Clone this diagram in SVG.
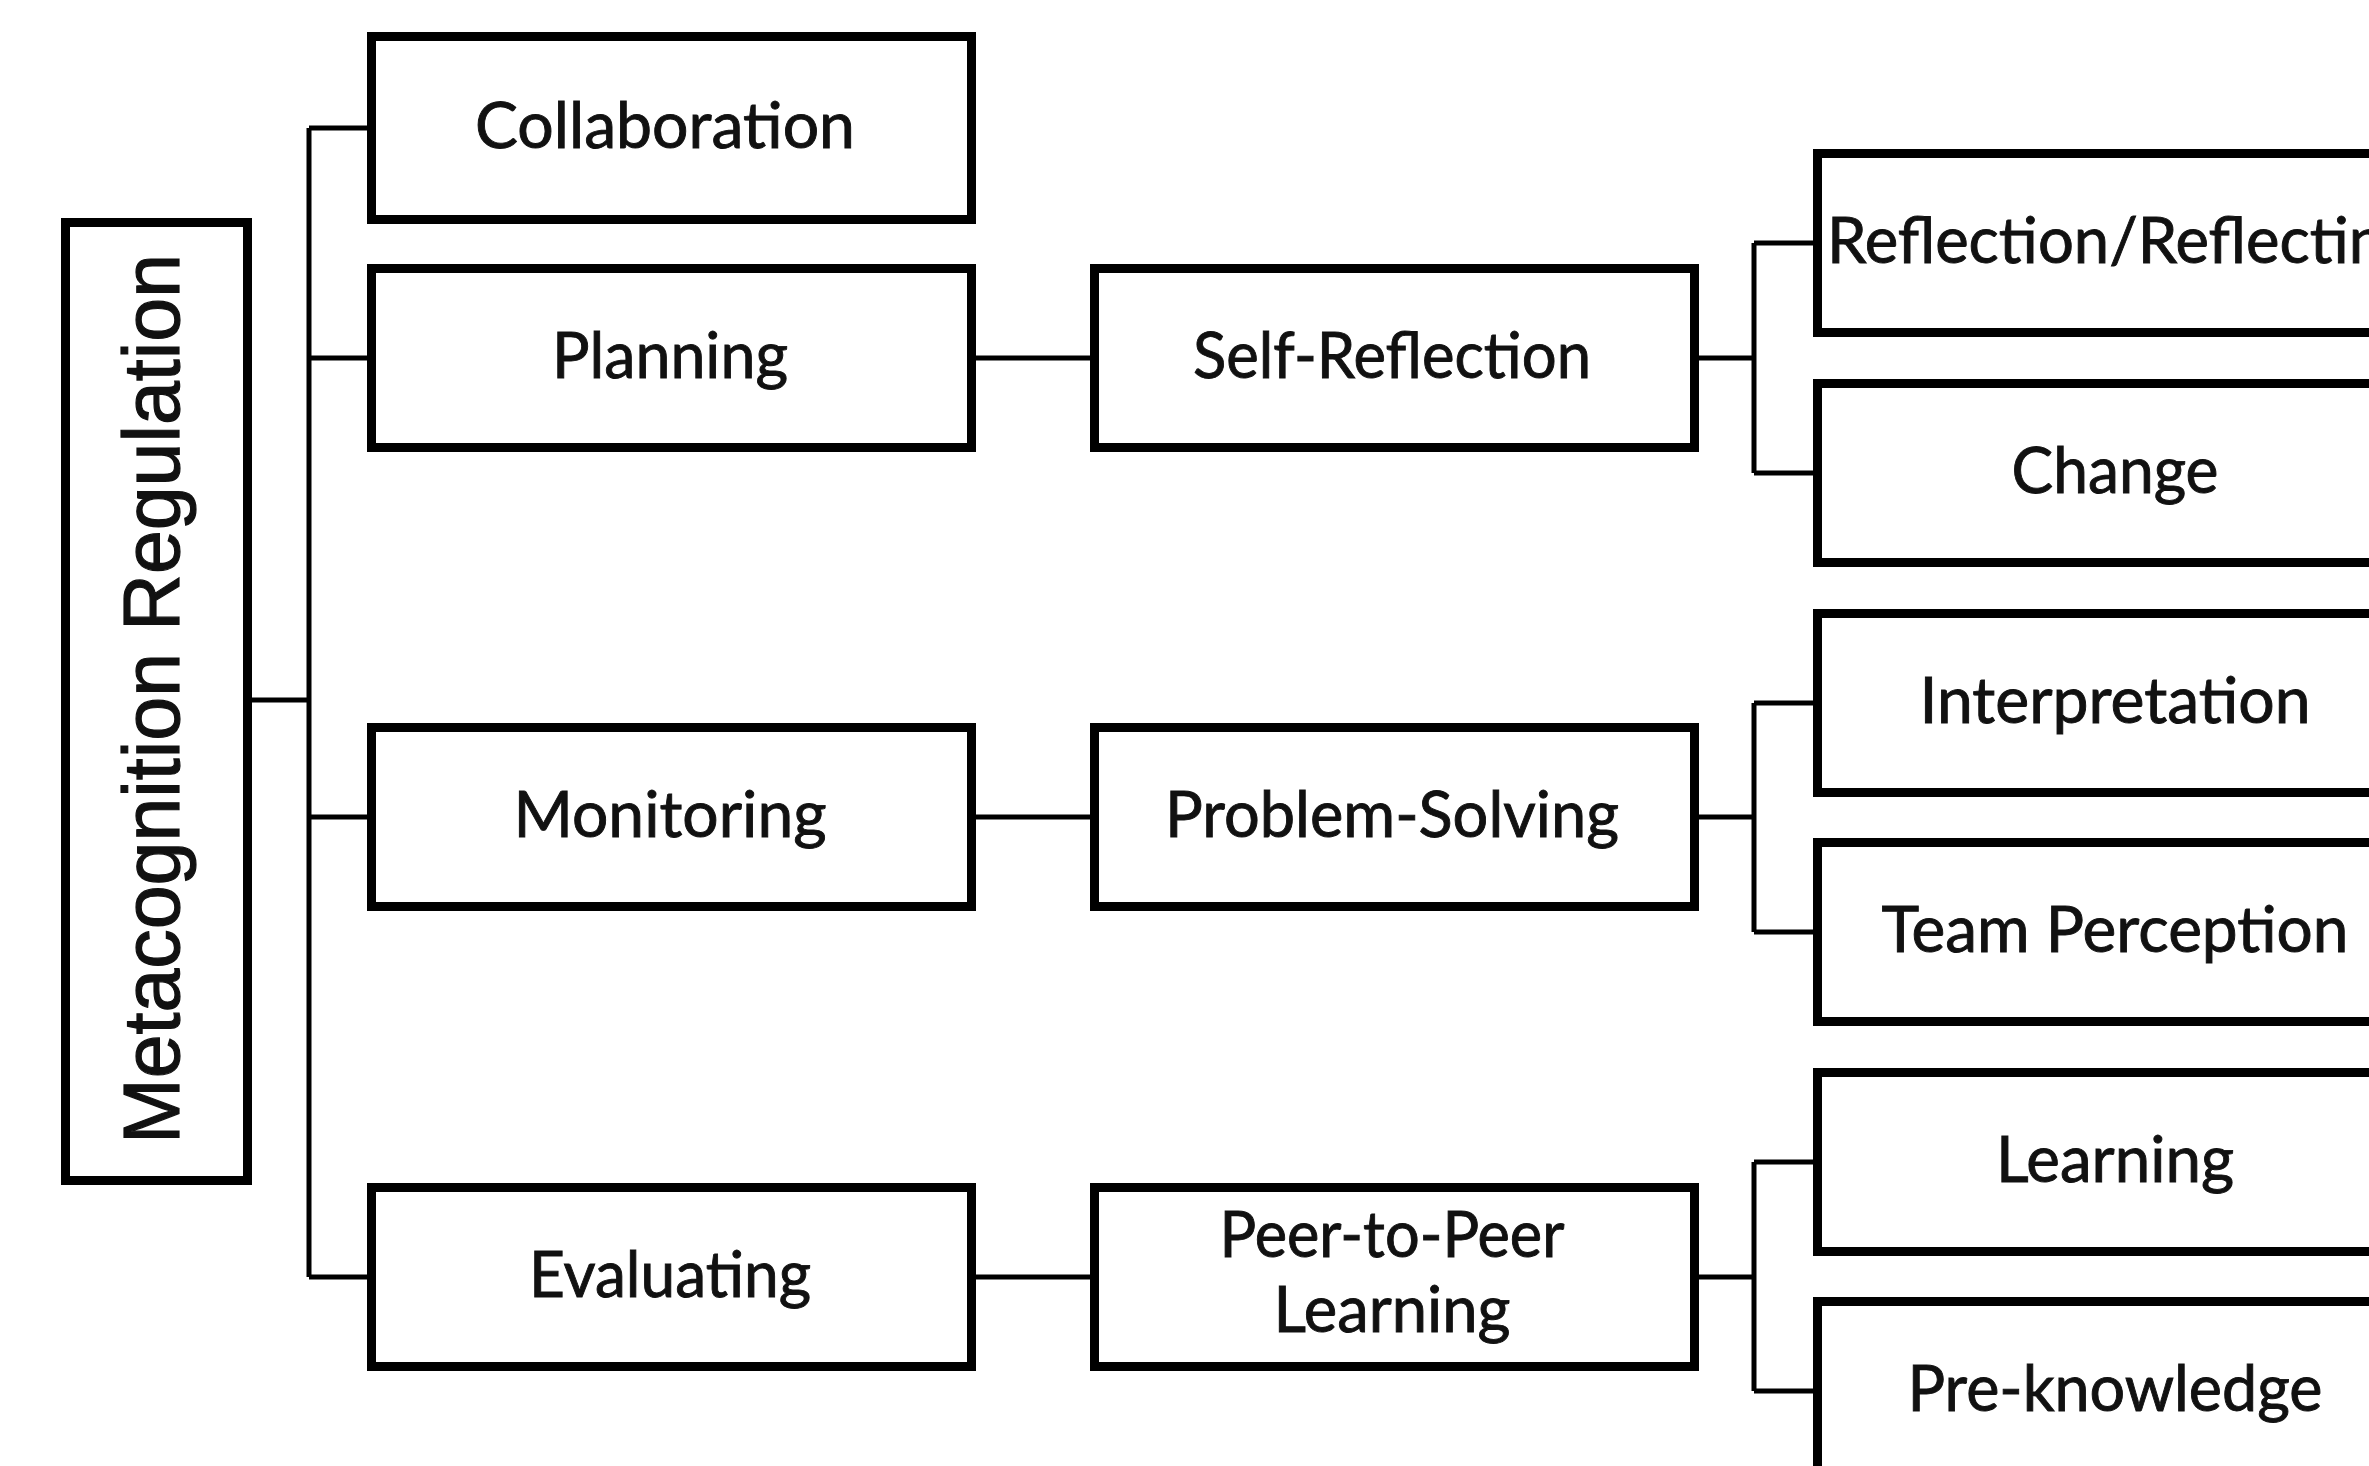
<svg xmlns="http://www.w3.org/2000/svg" width="2369" height="1466" viewBox="0 0 2369 1466">
  <style>
    .box { fill: #ffffff; stroke: #000000; stroke-width: 9; }
    .lbl { font-family: Lato, "Open Sans", "Liberation Sans", sans-serif; font-size: 63px; fill: #111111; stroke: #111111; stroke-width: 0.9; text-anchor: middle; }
    .root { font-family: "Liberation Sans Narrow", "Liberation Sans", Arial, sans-serif; font-size: 80px; fill: #111111; stroke: #111111; stroke-width: 1.2; text-anchor: middle; }
    .wire { fill: none; stroke: #000000; stroke-width: 5; }
  </style>
  <rect x="0" y="0" width="2369" height="1466" fill="#ffffff"/>

  <!-- connectors -->
  <g id="connectors">
    <!-- root to first level -->
    <path class="wire" d="M252,700 H309"/>
    <path class="wire" d="M309,128 V1277"/>
    <path class="wire" d="M309,128 H367 M309,358 H367 M309,817 H367 M309,1277 H367"/>
    <!-- first level to second level -->
    <path class="wire" d="M976,358 H1090 M976,817 H1090 M976,1277 H1090"/>
    <!-- second level to third level -->
    <path class="wire" d="M1699,358 H1754 M1754,243 V473 M1754,243 H1813 M1754,473 H1813"/>
    <path class="wire" d="M1699,817 H1754 M1754,703 V932 M1754,703 H1813 M1754,932 H1813"/>
    <path class="wire" d="M1699,1277 H1754 M1754,1162 V1391 M1754,1162 H1813 M1754,1391 H1813"/>
  </g>

  <!-- root -->
  <g id="metacognition-regulation">
    <rect class="box" x="65.5" y="222.5" width="182" height="958"/>
    <text class="root" transform="translate(179,699) rotate(-90)" x="0" y="0" textLength="890" lengthAdjust="spacingAndGlyphs">Metacognition Regulation</text>
  </g>

  <!-- first level -->
  <g id="collaboration">
    <rect class="box" x="371.5" y="36.5" width="600" height="183"/>
    <text class="lbl" x="665" y="148" textLength="380" lengthAdjust="spacingAndGlyphs">Collaboration</text>
  </g>
  <g id="planning">
    <rect class="box" x="371.5" y="268.5" width="600" height="179"/>
    <text class="lbl" x="670" y="378" textLength="236" lengthAdjust="spacingAndGlyphs">Planning</text>
  </g>
  <g id="monitoring">
    <rect class="box" x="371.5" y="727.5" width="600" height="179"/>
    <text class="lbl" x="670" y="837" textLength="313" lengthAdjust="spacingAndGlyphs">Monitoring</text>
  </g>
  <g id="evaluating">
    <rect class="box" x="371.5" y="1187.5" width="600" height="179"/>
    <text class="lbl" x="670" y="1297" textLength="282" lengthAdjust="spacingAndGlyphs">Evaluating</text>
  </g>

  <!-- second level -->
  <g id="self-reflection">
    <rect class="box" x="1094.5" y="268.5" width="600" height="179"/>
    <text class="lbl" x="1392" y="378" textLength="398" lengthAdjust="spacingAndGlyphs">Self-Reflection</text>
  </g>
  <g id="problem-solving">
    <rect class="box" x="1094.5" y="727.5" width="600" height="179"/>
    <text class="lbl" x="1392" y="837" textLength="454" lengthAdjust="spacingAndGlyphs">Problem-Solving</text>
  </g>
  <g id="peer-to-peer-learning">
    <rect class="box" x="1094.5" y="1187.5" width="600" height="179"/>
    <text class="lbl" x="1392" y="1257" textLength="345" lengthAdjust="spacingAndGlyphs">Peer-to-Peer</text>
    <text class="lbl" x="1392" y="1332" textLength="237" lengthAdjust="spacingAndGlyphs">Learning</text>
  </g>

  <!-- third level -->
  <g id="reflection-reflecting">
    <rect class="box" x="1817.5" y="153.5" width="600" height="179"/>
    <text class="lbl" x="1827" y="263" textLength="590" lengthAdjust="spacingAndGlyphs" style="text-anchor:start">Reflection/Reflecting</text>
  </g>
  <g id="change">
    <rect class="box" x="1817.5" y="383.5" width="600" height="179"/>
    <text class="lbl" x="2115" y="493" textLength="207" lengthAdjust="spacingAndGlyphs">Change</text>
  </g>
  <g id="interpretation">
    <rect class="box" x="1817.5" y="613.5" width="600" height="179"/>
    <text class="lbl" x="2115" y="723" textLength="391" lengthAdjust="spacingAndGlyphs">Interpretation</text>
  </g>
  <g id="team-perception">
    <rect class="box" x="1817.5" y="842.5" width="600" height="179"/>
    <text class="lbl" x="2115" y="952" textLength="467" lengthAdjust="spacingAndGlyphs">Team Perception</text>
  </g>
  <g id="learning">
    <rect class="box" x="1817.5" y="1072.5" width="600" height="179"/>
    <text class="lbl" x="2115" y="1182" textLength="238" lengthAdjust="spacingAndGlyphs">Learning</text>
  </g>
  <g id="pre-knowledge">
    <rect class="box" x="1817.5" y="1301.5" width="600" height="179"/>
    <text class="lbl" x="2115" y="1411" textLength="415" lengthAdjust="spacingAndGlyphs">Pre-knowledge</text>
  </g>
</svg>
